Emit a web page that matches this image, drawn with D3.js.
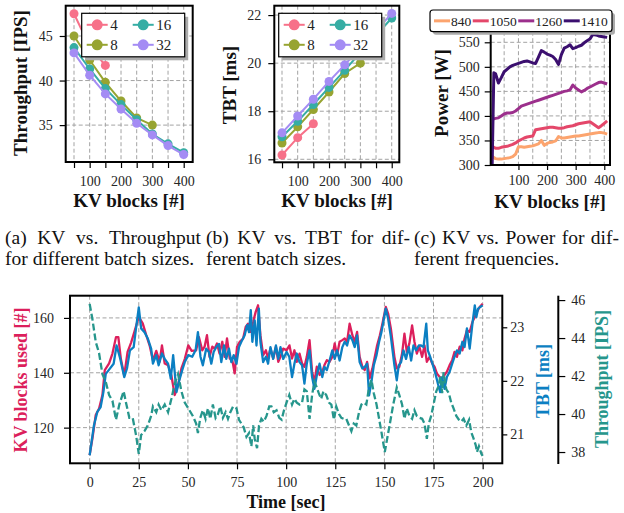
<!DOCTYPE html>
<html lang="en">
<head>
<meta charset="utf-8">
<title>KV blocks</title>
<script src="https://d3js.org/d3.v7.min.js"></script>
<style>
  body { margin: 0; background: #fff; }
</style>
</head>
<body>
<svg id="fig" width="624" height="513"></svg>
<script>
// ---- data ----
const kvBlocks = [50, 100, 150, 200, 250, 300, 350, 400];
const batchSizes = ["4", "8", "16", "32"];
const batchColors = ["#f77189", "#97a431", "#36ada4", "#a48cf4"];

const tputBatch4 = [47.5, 43.8, 41.7];
const tputBatch8 = [45.0, 42.3, 39.8, 37.7, 35.8, 35.0];
const tputBatch16 = [43.7, 41.3, 39.1, 37.3, 35.6, 34.0, 32.9, 31.9];
const tputBatch32 = [43.1, 40.6, 38.5, 36.8, 35.2, 33.9, 32.7, 31.7];

const tbtBatch4 = [16.18, 16.9, 17.48];
const tbtBatch8 = [16.68, 17.35, 18.07, 18.8, 19.57, 20.0];
const tbtBatch16 = [16.94, 17.58, 18.28, 18.99, 19.7, 20.45, 21.15, 21.88];
const tbtBatch32 = [17.1, 17.8, 18.5, 19.24, 19.93, 20.65, 21.35, 22.07];

const freqs = ["840", "1050", "1260", "1410"];
const freqColors = ["#fca46e", "#e4476a", "#9c2f8c", "#3b0f6f"];
const powerKV = [8, 14, 20, 30, 40, 50, 60, 70, 80, 90, 100, 110, 120, 130, 140, 150, 160, 170, 180, 190, 200,
  210, 220, 230, 240, 250, 260, 270, 280, 290, 300, 310, 320, 330, 340, 350, 360, 370, 380, 390, 400, 410];
const power840 = [318, 315, 313, 312, 312, 313, 314, 315, 317, 322, 337, 337, 336, 337, 338, 339, 341, 343, 350, 340, 344,
  346, 347, 349, 358, 355, 355, 356, 357, 358, 359, 359, 360, 361, 362, 363, 364, 365, 366, 366, 365, 363];
const power1050 = [338, 336, 334, 334, 336, 337, 338, 340, 342, 345, 349, 352, 355, 357, 358, 359, 372, 373, 374, 375, 376,
  377, 377, 376, 375, 375, 376, 378, 379, 380, 382, 384, 385, 386, 387, 388, 384, 380, 376, 380, 385, 390];
const power1260 = [394, 394, 395, 396, 400, 404, 406, 406, 407, 410, 415, 420, 422, 424, 426, 428, 430, 432, 434, 436, 438,
  440, 442, 444, 446, 448, 450, 451, 453, 463, 457, 453, 449, 452, 456, 459, 462, 465, 468, 469, 467, 465];
const power1410 = [296, 488, 486, 467, 478, 490, 495, 500, 503, 505, 507, 509, 511, 512, 510, 508, 507, 520, 533, 530, 526,
  524, 521, 515, 505, 525, 538, 541, 545, 537, 539, 542, 544, 549, 553, 557, 566, 565, 563, 562, 561, 560];

const kvTime = [0, 1.4, 3.1, 4.8, 6.5, 7.7, 9.9, 11.6, 13.4, 14.6, 15.9, 17.6, 19.3, 21.1, 22.8, 25, 27, 28.8, 30.5, 32.2,
  33.9, 35.6, 36.8, 38.2, 39.9, 41.6, 43.3, 45, 46.7, 48.4, 50.2, 51.9,
  54.2, 55.6, 57.3, 58.5, 59.7, 61, 62.4, 63.6, 64.8, 66.1, 67.5, 68.7, 69.9, 71.3, 72.6, 73.8, 75, 76.4, 78.1, 79.4,
  80.6, 81.8, 83.2, 84.5, 85.7, 86.9, 88.3, 89.7, 90.8, 92, 93.4, 94.8, 96, 97.1, 98.5, 100.2,
  101.7, 103, 104.2, 105.4, 106.8, 108.1, 109.3, 110.5, 111.9, 113.2, 114.4, 115.6, 117, 118.4, 119.5, 120.7, 122.1, 123.5,
  124.7, 125.9, 127.2, 128.6, 129.8, 131, 132.3, 133.7, 134.9, 136.1, 137.4, 138.8, 140, 141.2, 142.5, 143.9, 145.1, 146.3,
  147.7, 149, 150.7,
  151.9, 153.3, 155.1, 156.3, 157.6, 159, 160.2, 161.4, 162.7, 164.1, 165.3, 166.5, 167.8, 169.2, 170.4, 171.6, 173, 174.3,
  175.5, 176.7, 178.1, 179.4, 180.6, 181.8, 183.2, 184.5, 185.7, 186.9, 188.3, 189.7, 190.8, 192, 193.4, 194.8, 196, 197.1,
  198.5, 200];
const kvUsed = [110, 116, 124.6, 127, 131.9, 141, 143.4, 147, 153, 153, 145, 139, 147.6, 151, 155, 160.4, 158, 153.7, 150, 144.6,
  148, 144, 150, 143.4, 142.8, 139, 131.9, 135.5, 141.6, 145, 150, 148,
  148.2, 153, 148.2, 149.5, 153.7, 145.8, 149.5, 148.8, 150.7, 147, 151.3, 145.8, 152.5, 145.2, 144.6, 139.8, 149.5, 151.3, 152.5, 156.7,
  157.9, 154.9, 158.5, 162.2, 164.6, 153.7, 146.4, 148.2, 145.2, 148.8, 145.2, 149.5, 144, 145.8, 148.8, 148.2,
  150, 145.2, 148.2, 144, 147, 143.4, 142.2, 145.8, 151.9, 140.4, 136.7, 142.2, 139.2, 140.4, 142.8, 144.6, 144, 145.8,
  150.7, 146.4, 151.3, 151.9, 152.5, 151.3, 157.9, 153.7, 151.3, 154.9, 145.8, 142.2, 141, 144, 138, 141.6, 145.8, 150,
  153.7, 157.9, 164,
  161.6, 156.1, 145.8, 141.6, 142.2, 147, 154.3, 147.6, 150.7, 157.3, 151.3, 147, 149.5, 145.8, 150, 144, 145.8, 143.4,
  142.2, 139.8, 138.5, 137.9, 139.2, 140.4, 142.8, 144.6, 147.6, 145.8, 149.5, 148.2, 152.5, 155.5, 154.9, 158.5, 160.4, 162.2,
  164, 165.2];

const tbtTime = [0, 2.2, 3.9, 5.6, 7, 8.2, 9.9, 12.2, 13.7, 15.6, 17.6, 19, 20.5, 22.4, 23.6, 25, 26.2, 27.9, 29.6, 31.3,
  32.2, 33.9, 35.1, 36.8, 38.2, 39.9, 41.3, 42.5, 44.2, 45.4, 47.1, 48.4, 50.2,
  52.2, 53.9, 55.1, 56.4, 57.6, 59.3, 60.7, 61.9, 63.1, 64.4, 65.8, 67, 68.4, 69.5, 70.9, 72.1, 73.3, 74.7, 76, 77.2,
  78.9, 80.1, 81.1, 82, 82.8, 84, 84.9, 86.1, 86.9, 88.3, 89.7, 90.8, 92, 93.4, 94.8, 96, 97.1, 98.5, 100.2,
  101.6, 103, 104.2, 105.4, 106.8, 108.1, 109.3, 110.5, 111.9, 113.2, 114.4, 115.6, 117, 118.4, 119.5, 120.7, 122.1, 123.5,
  124.7, 125.9, 127.2, 128.6, 129.8, 131, 132.3, 133.7, 134.9, 136.1, 137.4, 138.8, 140, 141.2, 142.2, 143.4, 144.6, 146,
  147.3, 148.5, 150.7,
  151.9, 153.3, 155.1, 156.3, 157.3, 158.5, 159.7, 161, 162.4, 163.6, 164.8, 166.1, 167.5, 168.7, 169.9, 171.3, 172.1, 173.3,
  174.7, 176, 177.2, 178.4, 179.4, 180.6, 181.8, 183.2, 184.5, 185.7, 186.9, 188.3, 189.7, 190.8, 192, 193.4, 194.8, 196,
  196.8, 197.7, 198.8, 200];
const tbtMs = [20.61, 21.17, 21.42, 21.51, 21.79, 22.13, 22.21, 22.32, 22.66, 22.41, 22.07, 22.23, 22.57, 22.63, 22.98, 23.37, 22.98, 22.91, 22.79, 22.6,
  22.32, 22.48, 22.29, 22.51, 22.41, 22.32, 22.04, 22.48, 21.79, 21.98, 22.2, 22.35, 22.48,
  22.45, 22.57, 22.91, 22.45, 22.29, 22.6, 22.54, 22.32, 22.54, 22.63, 22.69, 22.35, 22.66, 22.41, 22.6, 22.35, 22.48, 22.32, 22.63, 22.73,
  22.85, 23.04, 22.91, 23.32, 22.73, 23.13, 22.66, 23.35, 22.73, 22.35, 22.45, 22.32, 22.63, 22.41, 22.66, 22.41, 22.63, 22.41, 22.54,
  22.45, 22.07, 22.32, 22.51, 22.35, 22.29, 21.95, 22.32, 22.57, 22.07, 21.85, 22.1, 22.32, 22.07, 22.26, 22.2, 22.38, 22.57,
  22.41, 22.57, 22.38, 22.63, 22.73, 22.66, 22.85, 22.76, 22.63, 22.85, 22.35, 22.23, 22.26, 22.32, 21.73, 21.98, 22.29, 22.48,
  22.73, 22.91, 23.35,
  23.16, 22.82, 22.29, 22.01, 22.29, 22.35, 22.57, 22.41, 22.63, 22.38, 22.66, 22.57, 22.66, 22.66, 22.63, 23.07, 22.57, 22.45,
  22.29, 22.13, 21.95, 21.79, 22.07, 21.85, 22.07, 22.17, 22.32, 22.45, 22.57, 22.51, 22.73, 22.63, 22.98, 22.6, 23.07, 23.41,
  23.19, 23.35, 23.38, 23.41];

const tputTime = [0, 1.4, 3.1, 4.8, 6.5, 8.2, 9.9, 11.6, 13.4, 15.1, 17.3, 18.5, 20.2, 21.9, 23.6, 25, 26.2, 27.9, 29.6, 31.3,
  32.2, 33.9, 35.1, 36.5, 38.2, 39.9, 41.6, 43.3, 45, 46.7, 48.4, 50.2,
  52.5, 54.2, 55.1, 56.3, 57.6, 59, 60.2, 61.4, 62.7, 64.1, 65.3, 66.5, 67.8, 69.2, 70.4, 71.6, 73, 74.7, 76, 77.2,
  78.4, 79.8, 81.1, 82.3, 83.2, 84, 85.2, 86.2, 87.4, 88.6, 90, 91.4, 92.5, 93.7, 95.1, 96.5, 97.7, 98.9, 100.2,
  101.6, 103, 104.2, 105.4, 106.8, 108.1, 109.3, 110.5, 111.9, 113.2, 114.4, 115.6, 116.6, 117.8, 119, 120.4, 121.8, 123,
  124.3, 125.5, 126.9, 128.1, 129.3, 130.6, 132, 133.2, 134.4, 135.7, 137.1, 138.3, 139.5, 140.8, 142.2, 143.4, 144.6, 146,
  147.3, 148.5, 150.2,
  151.4, 152.8, 154.5, 156.3, 157.6, 159, 160.2, 161.4, 162.7, 164.1, 165.3, 166.5, 167.8, 169.2, 170.4, 171.6, 172.6, 173.8,
  175, 176.4, 177.7, 178.4, 179.4, 180.1, 181.5, 182.8, 184, 185.2, 186.6, 187.9, 189.1, 190.3, 191.7, 193.1, 194.2, 195.4,
  196.5, 197.1, 198.1, 199.4, 200];
const tputIps = [45.8, 45, 43.8, 43.2, 42.1, 41.7, 41, 40.7, 39.7, 40.5, 41.2, 40.6, 39.8, 39.8, 38.9, 37.9, 38.9, 39.1, 39.4, 39.9,
  40.4, 40.1, 40.5, 40.2, 40.5, 40.1, 40.8, 41.6, 42.1, 41.2, 40.6, 40.3,
  39.9, 39.5, 39, 39.8, 40.2, 39.75, 40.3, 39.75, 40.5, 39.8, 40, 40.4, 39.8, 40.1, 39.75, 40.1, 40.4, 40.3, 39.7, 39.5,
  39.3, 38.8, 39, 38.3, 39.4, 38.7, 38.2, 39.4, 39.75, 39.6, 39.9, 40.4, 40.4, 40.1, 40.2, 39.8, 39.7, 40.2, 40.6,
  41, 40.5, 40.8, 40.6, 40.5, 40.6, 41.3, 41.2, 39.75, 41, 41.7, 41.4, 41.1, 40.8, 41.2, 41, 40.6, 40.5,
  39.7, 40.4, 40, 39.8, 39.75, 39.75, 39.4, 39.1, 39.5, 39.4, 40.1, 40.5, 40.6, 40.5, 41.4, 41.8, 41.1, 40.5,
  39.75, 39.05, 38,
  38.7, 39.5, 40.5, 41.4, 41, 40.5, 39.75, 40.3, 39.9, 39.75, 40.2, 39.9, 39.8, 39.75, 39.5, 38.7, 39.5, 39.9,
  40.5, 41.2, 41.5, 42, 41.1, 42.2, 41.3, 41.1, 40.6, 40.3, 39.9, 39.7, 39.6, 39.75, 39.4, 39.7, 39.05, 38.7,
  38.35, 38, 38.3, 37.9, 37.8];

const kvColor = "#dc1f5c", tbtColor = "#0b7fc2", tputColor = "#26968c";

// ---- helpers ----
const serif = "'Liberation Serif', 'DejaVu Serif', serif";
const intFmt = d3.format("d");
const svg = d3.select("#fig");
svg.append("rect").attr("width", 624).attr("height", 513).attr("fill", "#fff");

function styleAxis(g) {
  g.select(".domain").remove();
  g.selectAll(".tick line").attr("stroke", "#000").attr("stroke-width", 1.2);
  g.selectAll(".tick text").attr("font-family", serif).attr("font-size", 14).attr("fill", "#262626");
}

function grid(g, x, y, xv, yv, box) {
  const dash = {stroke: "#a3a3a3", w: 1, d: "4,2.5"};
  g.selectAll(null).data(xv).enter().append("line")
    .attr("x1", d => x(d)).attr("x2", d => x(d)).attr("y1", box.t).attr("y2", box.b)
    .attr("stroke", dash.stroke).attr("stroke-width", dash.w).attr("stroke-dasharray", dash.d);
  g.selectAll(null).data(yv).enter().append("line")
    .attr("y1", d => y(d)).attr("y2", d => y(d)).attr("x1", box.l).attr("x2", box.r)
    .attr("stroke", dash.stroke).attr("stroke-width", dash.w).attr("stroke-dasharray", dash.d);
}

function frame(g, box) {
  g.append("rect").attr("x", box.l).attr("y", box.t)
    .attr("width", box.r - box.l).attr("height", box.b - box.t)
    .attr("fill", "none").attr("stroke", "#000").attr("stroke-width", 2);
}

function axisLabel(text, x, y, rotate, color, size) {
  svg.append("text").text(text)
    .attr("transform", "translate(" + x + "," + y + ")" + (rotate ? " rotate(-90)" : ""))
    .attr("text-anchor", "middle").attr("dy", "0.35em")
    .attr("font-family", serif).attr("font-size", size || 19).attr("font-weight", "bold")
    .attr("fill", color || "#111");
}

function batchLegend(g, x0, y0) {
  const w = 103, h = 43.5;
  g.append("rect").attr("x", x0 + 3.5).attr("y", y0 + 3.5).attr("width", w).attr("height", h).attr("fill", "#ababab");
  g.append("rect").attr("x", x0).attr("y", y0).attr("width", w).attr("height", h)
    .attr("fill", "#fff").attr("stroke", "#000").attr("stroke-width", 1.2);
  batchSizes.forEach((b, i) => {
    const cx = x0 + (i < 2 ? 5 : 51), cy = y0 + (i % 2 === 0 ? 11.5 : 31.5);
    g.append("line").attr("x1", cx).attr("x2", cx + 21).attr("y1", cy).attr("y2", cy)
      .attr("stroke", batchColors[i]).attr("stroke-width", 2);
    g.append("circle").attr("cx", cx + 10.5).attr("cy", cy).attr("r", 5.5).attr("fill", batchColors[i]);
    g.append("text").text(b).attr("x", cx + 23.5).attr("y", cy).attr("dy", "0.35em")
      .attr("font-family", serif).attr("font-size", 15).attr("fill", "#222");
  });
}

function batchPanel(box, xDom, yDom, yTicks, series) {
  const g = svg.append("g");
  const x = d3.scaleLinear().domain(xDom).range([box.l, box.r]);
  const y = d3.scaleLinear().domain(yDom).range([box.b, box.t]);
  grid(g, x, y, kvBlocks, yTicks, box);
  const line = d3.line().x((d, i) => x(kvBlocks[i])).y(d => y(d));
  series.forEach((s, k) => {
    g.append("path").attr("d", line(s)).attr("fill", "none")
      .attr("stroke", batchColors[k]).attr("stroke-width", 2);
    g.selectAll(null).data(s).enter().append("circle")
      .attr("cx", (d, i) => x(kvBlocks[i])).attr("cy", d => y(d)).attr("r", 4.5)
      .attr("fill", batchColors[k]);
  });
  frame(g, box);
  g.append("g").attr("transform", "translate(0," + box.b + ")")
    .call(d3.axisBottom(x).tickValues(kvBlocks).tickSize(6).tickPadding(8)
      .tickFormat(d => d % 100 === 0 ? d : ""))
    .call(styleAxis);
  g.append("g").attr("transform", "translate(" + box.l + ",0)")
    .call(d3.axisLeft(y).tickValues(yTicks).tickSize(6).tickPadding(7).tickFormat(intFmt))
    .call(styleAxis);
  return g;
}

// ---- (a) throughput ----
const boxA = {l: 65.7, r: 192.7, t: 5.7, b: 162};
const gA = batchPanel(boxA, [23.5, 428.7], [30.86, 48.4], [35, 40, 45],
  [tputBatch4, tputBatch8, tputBatch16, tputBatch32]);
batchLegend(gA, 81.7, 13.3);
axisLabel("Throughput [IPS]", 20.5, 83, true);
axisLabel("KV blocks [#]", 129, 200, false);

// ---- (b) TBT ----
const boxB = {l: 274.3, r: 399.3, t: 5.7, b: 162.3};
const gB = batchPanel(boxB, [25.4, 424.2], [15.875, 22.39], [16, 18, 20, 22],
  [tbtBatch4, tbtBatch8, tbtBatch16, tbtBatch32]);
batchLegend(gB, 278.7, 13.3);
axisLabel("TBT [ms]", 229, 85, true);
axisLabel("KV blocks [#]", 337, 200, false);

// ---- (c) power ----
const boxC = {l: 490.7, r: 610, t: 31.7, b: 165};
const gC = svg.append("g");
const xC = d3.scaleLinear().domain([3, 420]).range([boxC.l, boxC.r]);
const yC = d3.scaleLinear().domain([300, 571.6]).range([boxC.b, boxC.t]);
grid(gC, xC, yC, [50, 100, 150, 200, 250, 300, 350, 400], [350, 400, 450, 500, 550], boxC);
gC.append("clipPath").attr("id", "clipC").append("rect")
  .attr("x", boxC.l).attr("y", boxC.t).attr("width", boxC.r - boxC.l).attr("height", boxC.b - boxC.t);
const powerLine = d3.line().x((d, i) => xC(powerKV[i])).y(d => yC(d));
[power840, power1050, power1260, power1410].forEach((s, k) => {
  gC.append("path").attr("d", powerLine(s)).attr("clip-path", "url(#clipC)")
    .attr("fill", "none").attr("stroke", freqColors[k]).attr("stroke-width", 3)
    .attr("stroke-linejoin", "round");
});
frame(gC, boxC);
gC.append("g").attr("transform", "translate(0," + boxC.b + ")")
  .call(d3.axisBottom(xC).tickValues([100, 200, 300, 400]).tickSize(5).tickPadding(5).tickFormat(intFmt))
  .call(styleAxis);
gC.append("g").attr("transform", "translate(" + boxC.l + ",0)")
  .call(d3.axisLeft(yC).tickValues([300, 350, 400, 450, 500, 550]).tickSize(6).tickPadding(5).tickFormat(intFmt))
  .call(styleAxis);
// legend on top of the axes
{
  const lx = 430, ly = 10, lw = 182, lh = 21.7;
  gC.append("rect").attr("x", lx + 3).attr("y", ly + 3).attr("width", lw).attr("height", lh)
    .attr("rx", 3).attr("fill", "#ababab");
  gC.append("rect").attr("x", lx).attr("y", ly).attr("width", lw).attr("height", lh).attr("rx", 3)
    .attr("fill", "#fff").attr("stroke", "#000").attr("stroke-width", 1.2);
  let cx = lx + 4;
  const cy = ly + lh / 2;
  freqs.forEach((f, k) => {
    gC.append("line").attr("x1", cx).attr("x2", cx + 16).attr("y1", cy).attr("y2", cy)
      .attr("stroke", freqColors[k]).attr("stroke-width", 3);
    const t = gC.append("text").text(f).attr("x", cx + 17).attr("y", cy).attr("dy", "0.35em")
      .attr("font-family", serif).attr("font-size", 13.5).attr("fill", "#222");
    cx += 17 + t.node().getComputedTextLength() + 1.5;
  });
}
axisLabel("Power [W]", 441.5, 93, true);
axisLabel("KV blocks [#]", 550, 201, false);

// ---- captions ----
function captionLine(words, x0, x1, y) {
  const g = svg.append("g");
  const nodes = words.map(w => g.append("text").text(w)
    .attr("font-family", serif).attr("font-size", 19.5).attr("fill", "#111"));
  const widths = nodes.map(n => n.node().getComputedTextLength());
  const gap = x1 ? (x1 - x0 - d3.sum(widths)) / (words.length - 1) : 19.5 * 0.25;
  let x = x0;
  nodes.forEach((n, i) => { n.attr("x", x).attr("y", y); x += widths[i] + gap; });
}
captionLine(["(a)", "KV", "vs.", "Throughput"], 5, 201, 243.5);
captionLine(["for", "different", "batch", "sizes."], 5, null, 265);
captionLine(["(b)", "KV", "vs.", "TBT", "for", "dif-"], 206, 410, 243.5);
captionLine(["ferent", "batch", "sizes."], 206, null, 265);
captionLine(["(c)", "KV", "vs.", "Power", "for", "dif-"], 414, 619, 243.5);
captionLine(["ferent", "frequencies."], 414, null, 265);

// ---- bottom: time series ----
const boxT = {l: 70, r: 502.3, t: 295.7, b: 463.3};
const gT = svg.append("g");
const xT = d3.scaleLinear().domain([-10, 210]).range([boxT.l, boxT.r]);
const yKV = d3.scaleLinear().domain([107, 168.1]).range([boxT.b, boxT.t]);
const yTBT = d3.scaleLinear().domain([20.46, 23.59]).range([boxT.b, boxT.t]);
const yIPS = d3.scaleLinear().domain([37.37, 46.23]).range([464, 295.7]);
grid(gT, xT, yKV, d3.range(0, 201, 25), [120, 140, 160], boxT);

gT.append("path").attr("d", d3.line().x((d, i) => xT(kvTime[i])).y(d => yKV(d))(kvUsed))
  .attr("fill", "none").attr("stroke", kvColor).attr("stroke-width", 2.3).attr("stroke-linejoin", "round");
gT.append("path").attr("d", d3.line().x((d, i) => xT(tbtTime[i])).y(d => yTBT(d))(tbtMs))
  .attr("fill", "none").attr("stroke", tbtColor).attr("stroke-width", 2.3).attr("stroke-linejoin", "round");
gT.append("path").attr("d", d3.line().x((d, i) => xT(tputTime[i])).y(d => yIPS(d))(tputIps))
  .attr("fill", "none").attr("stroke", tputColor).attr("stroke-width", 2.3).attr("stroke-dasharray", "7,3");

frame(gT, boxT);
gT.append("g").attr("transform", "translate(0," + boxT.b + ")")
  .call(d3.axisBottom(xT).tickValues(d3.range(0, 201, 25)).tickSize(6).tickPadding(8).tickFormat(intFmt))
  .call(styleAxis);
gT.append("g").attr("transform", "translate(" + boxT.l + ",0)")
  .call(d3.axisLeft(yKV).tickValues([120, 140, 160]).tickSize(6).tickPadding(10).tickFormat(intFmt))
  .call(styleAxis);
gT.append("g").attr("transform", "translate(" + boxT.r + ",0)")
  .call(d3.axisRight(yTBT).tickValues([21, 22, 23]).tickSize(5).tickPadding(3).tickFormat(intFmt))
  .call(styleAxis);
gT.append("line").attr("x1", 558.3).attr("x2", 558.3).attr("y1", 295.7).attr("y2", 464)
  .attr("stroke", "#000").attr("stroke-width", 2);
gT.append("g").attr("transform", "translate(558.3,0)")
  .call(d3.axisRight(yIPS).tickValues([38, 40, 42, 44, 46]).tickSize(7).tickPadding(6).tickFormat(intFmt))
  .call(styleAxis);

axisLabel("KV blocks used [#]", 20.5, 380, true, kvColor, 18);
axisLabel("TBT [ms]", 543, 381, true, tbtColor, 18);
axisLabel("Throughput [IPS]", 601.5, 379, true, tputColor, 18);
axisLabel("Time [sec]", 286, 502, false, null, 18);
</script>
</body>
</html>
